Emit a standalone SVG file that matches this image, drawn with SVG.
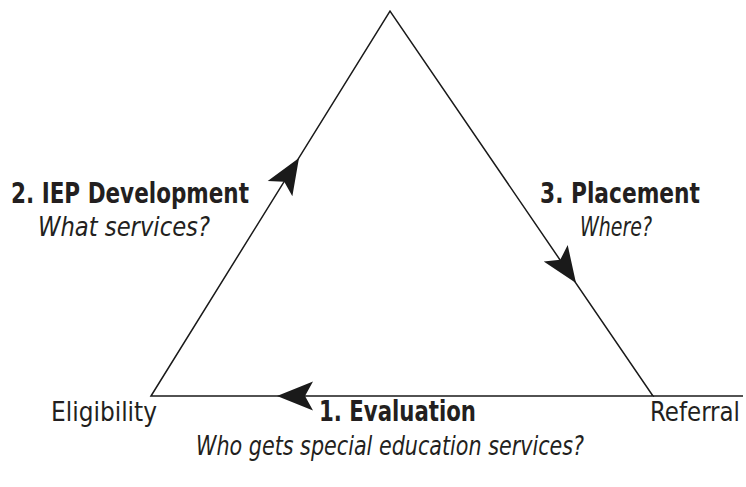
<svg xmlns="http://www.w3.org/2000/svg" width="746" height="487" viewBox="0 0 746 487">
<style>
.ln{fill:none;stroke:#1a1a1a;stroke-width:1.5;stroke-linejoin:miter}
.ah{fill:#1a1a1a}
.b{font-family:"DejaVu Sans Condensed","Liberation Sans",sans-serif;font-weight:bold;font-size:28px;fill:#231f20}
.r{font-family:"DejaVu Sans Condensed","Liberation Sans",sans-serif;font-size:27px;fill:#231f20}
.i{font-family:"DejaVu Sans Condensed","Liberation Sans",sans-serif;font-style:italic;font-size:27px;fill:#231f20}
</style>
<defs>
<path id="arrow" d="M0,0 L-36,-14.5 L-28,0 L-36,14.5 Z"/>
</defs>
<g id="connectors">
<path class="ln" d="M151,396 L390,11 L653,396 Z"/>
<path class="ln" d="M653,396 L743,396"/>
<use href="#arrow" class="ah" transform="translate(299,158) rotate(-58.2)"/>
<use href="#arrow" class="ah" transform="translate(576,283) rotate(55.7)"/>
<use href="#arrow" class="ah" transform="translate(277,396) rotate(180)"/>
</g>
<g id="node-iep">
<text class="b" x="11" y="203" textLength="238" lengthAdjust="spacingAndGlyphs">2. IEP Development</text>
<text class="i" x="38" y="236" textLength="172" lengthAdjust="spacingAndGlyphs">What services?</text>
</g>
<g id="node-placement">
<text class="b" x="540" y="203" textLength="160" lengthAdjust="spacingAndGlyphs">3. Placement</text>
<text class="i" x="580" y="236" textLength="72" lengthAdjust="spacingAndGlyphs">Where?</text>
</g>
<g id="node-eligibility">
<text class="r" x="51" y="421" textLength="106" lengthAdjust="spacingAndGlyphs">Eligibility</text>
</g>
<g id="node-evaluation">
<text class="b" x="319" y="421" textLength="157" lengthAdjust="spacingAndGlyphs">1. Evaluation</text>
<text class="i" x="196" y="455" textLength="388" lengthAdjust="spacingAndGlyphs">Who gets special education services?</text>
</g>
<g id="node-referral">
<text class="r" x="650" y="421" textLength="90" lengthAdjust="spacingAndGlyphs">Referral</text>
</g>
</svg>
